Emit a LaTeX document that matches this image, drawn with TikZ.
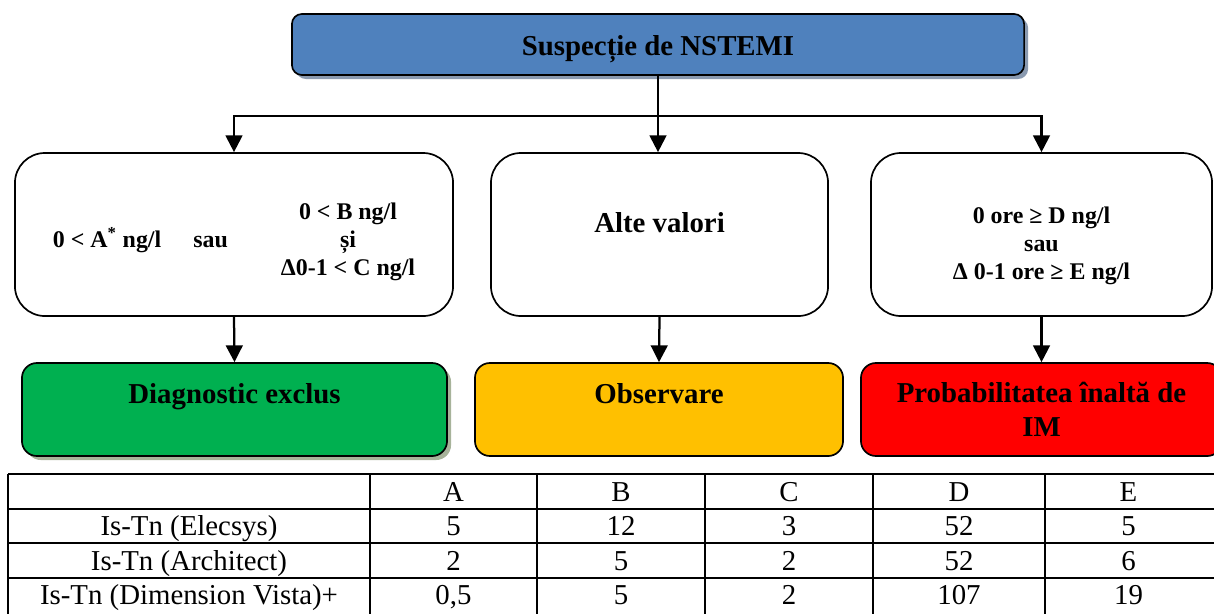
\documentclass[tikz,border=0pt]{standalone}
\usepackage{fontspec}
\setmainfont{Liberation Serif}
\usetikzlibrary{arrows.meta,shadows}

\definecolor{nstemiblue}{HTML}{4F81BD}
\definecolor{blueshadow}{HTML}{8A9AB0}
\definecolor{exclgreen}{HTML}{00B050}
\definecolor{greenshadow}{HTML}{A7B39A}
\definecolor{obsyellow}{HTML}{FFC000}
\definecolor{imred}{HTML}{FF0000}

\begin{document}
\begin{tikzpicture}[x=0.025cm,y=-0.025cm,
	box/.style={draw, line width=1.2pt, rounded corners=0.375cm, font=\bfseries\fontsize{20.5}{24}\selectfont},
	critbox/.style={box, fill=white, rounded corners=0.75cm, minimum height=4.075cm, font=\bfseries\fontsize{17}{20}\selectfont},
	resbox/.style={box, minimum height=2.325cm},
	toptext/.style={text height=15pt, text depth=23pt},
	shadowed/.style={drop shadow={shadow xshift=0.1cm, shadow yshift=-0.1cm, fill=#1, opacity=1}},
	arr/.style={line width=1.6pt, -{Triangle[length=0.42cm,width=0.42cm]}},
	tabline/.style={line width=1.2pt},
	cell/.style={font=\fontsize{20.5}{24}\selectfont, text height=13.5pt, text depth=0pt}]

	\useasboundingbox (0,0) rectangle (1214,613);

	% top box
	\node[box, fill=nstemiblue, rounded corners=0.25cm, minimum width=18.3cm, minimum height=1.525cm, text height=20pt, text depth=4.3pt, shadowed=blueshadow] (susp) at (658,44.5) {Suspecție de NSTEMI};

	% criteria
	\node[critbox, minimum width=10.95cm, text height=45pt] (crit1) at (234,234.5)
		{\begin{tabular}{@{}c@{\hspace{22.8pt}}c@{\hspace{37.7pt}}c@{}}
			& & 0 < B ng/l\\
			0 < A\textsuperscript{*} ng/l & sau & și\\
			& & Δ0-1 < C ng/l
		\end{tabular}\hspace{17.8pt}};
	\node[critbox, minimum width=8.425cm, font=\bfseries\fontsize{20.5}{24}\selectfont, text height=15pt, text depth=18pt] (crit2) at (659.5,234.5) {Alte valori};
	\node[critbox, minimum width=8.525cm, align=center, text height=68pt, text depth=4pt] (crit3) at (1041.5,234.5)
		{0 ore ≥ D ng/l\\ sau\\ Δ 0-1 ore ≥ E ng/l};

	% results
	\node[resbox, toptext, fill=exclgreen, minimum width=10.625cm, shadowed=greenshadow] (res1) at (234.5,409.5) {Diagnostic exclus};
	\node[resbox, toptext, fill=obsyellow, minimum width=9.2cm] (res2) at (659,409.5) {Observare};
	\node[resbox, fill=imred, align=center, minimum width=9.025cm] (res3) at (1041.5,409.5) {Probabilitatea înaltă de\\ IM};

	% connectors
	\coordinate (split) at (658,116);
	\draw[line width=1.6pt] (susp.south) -- (split);
	\draw[arr] (split) -| (crit1.north);
	\draw[arr] (split) -- (split |- crit2.north);
	\draw[arr] (split) -| (crit3.north);

	\draw[arr] (crit1.south) -- (res1.north);
	\draw[arr] (crit2.south) -- (res2.north);
	\draw[arr] (crit3.south) -- (res3.north);

	% table
	\foreach \y in {474,509,543,578}
		\draw[tabline] (8,\y) -- (1230,\y);
	\foreach \x in {8,370,537,705,873,1045}
		\draw[tabline] (\x,474) -- (\x,625);

	\foreach \cx/\v [count=\c] in {453.5/A, 621/B, 789/C, 959/D, 1128.5/E}
		\node[cell] (head-\c) at (\cx,491.5) {\v};

	\node[cell] (elec) at (189,526) {Is-Tn (Elecsys)};
	\foreach \cx/\v [count=\c] in {453.5/5, 621/12, 789/3, 959/52, 1128.5/5}
		\node[cell] (elec-\c) at (\cx,526) {\v};

	\node[cell] (arch) at (189,560.5) {Is-Tn (Architect)};
	\foreach \cx/\v [count=\c] in {453.5/2, 621/5, 789/2, 959/52, 1128.5/6}
		\node[cell] (arch-\c) at (\cx,560.5) {\v};

	\node[cell] (dimv) at (189,595) {Is-Tn (Dimension Vista)+};
	\foreach \cx/\v [count=\c] in {453.5/{0,5}, 621/5, 789/2, 959/107, 1128.5/19}
		\node[cell] (dimv-\c) at (\cx,595) {\v};

\end{tikzpicture}
\end{document}
